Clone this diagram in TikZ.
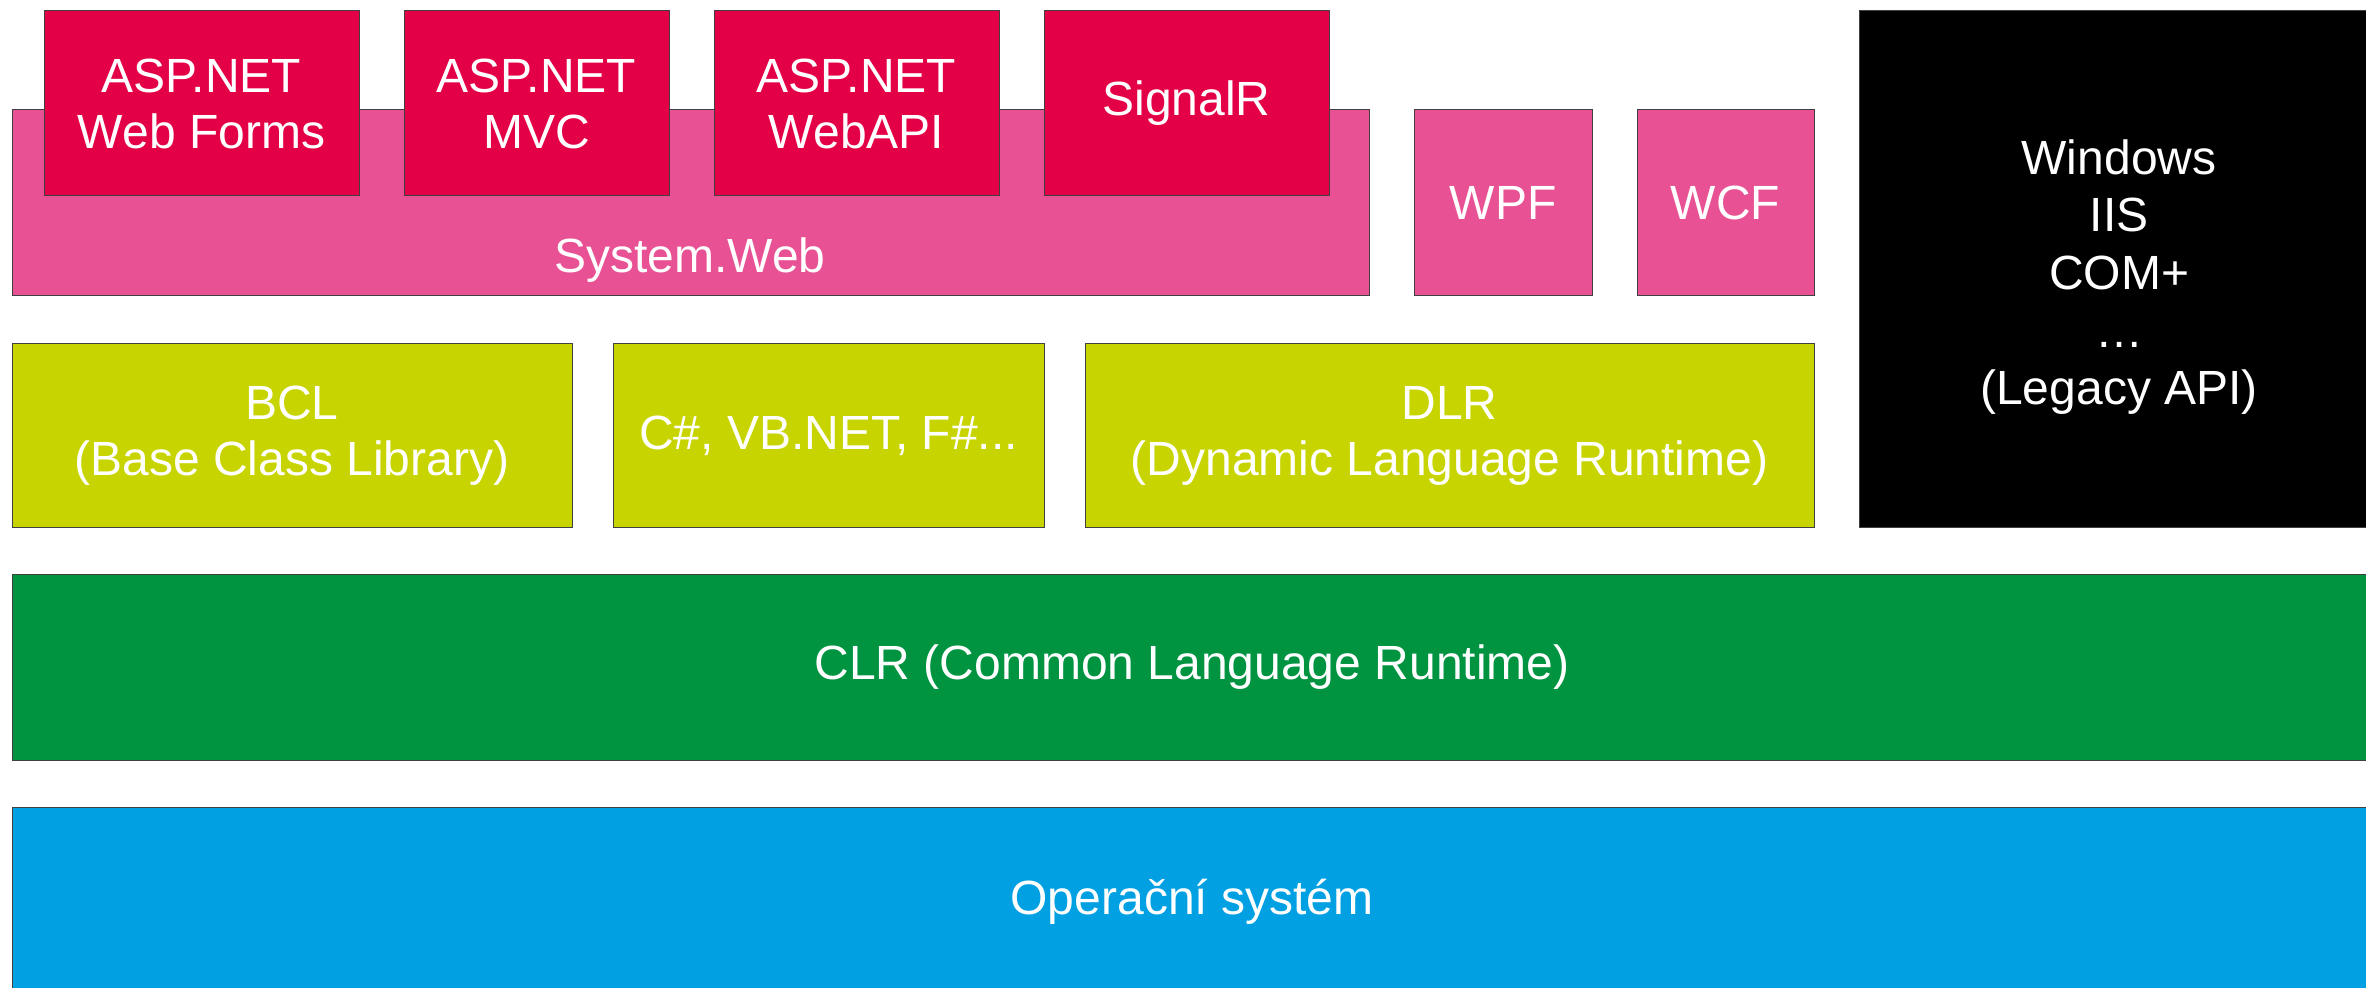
\documentclass[tikz,border=0pt]{standalone}
\usepackage{fontspec}
\setmainfont{Liberation Sans}
\definecolor{cred}{RGB}{228,0,70}
\definecolor{cpink}{RGB}{232,82,148}
\definecolor{cyellow}{RGB}{200,212,0}
\definecolor{cgreen}{RGB}{0,148,64}
\definecolor{cblue}{RGB}{0,160,227}
\newcommand\layer[7]{%
  \node[blk, fill=#6, minimum width={(#4-#2)*0.5pt}, minimum height={(#5-#3)*0.5pt}] (#1) at (#2,#3) {#7};}
\begin{document}
\begin{tikzpicture}[x=0.5pt,y=-0.5pt,
  blk/.style={draw=black!75, line width=0.5pt, inner sep=0pt, outer sep=0pt, anchor=north west,
    text=white, align=center, font=\fontsize{24}{28}\selectfont},
  lbl/.style={text=white, inner sep=0pt, align=center, font=\fontsize{24}{28}\selectfont}]
\useasboundingbox (0,0) rectangle (2366,988);
\clip (0,0) rectangle (2366,988);
% web stack
\layer{sysweb}{12}{110}{1369}{296}{cpink}{}
\node[lbl] (syswebtext) at (690,260) {System.Web};
\layer{webforms}{44}{11}{359}{196}{cred}{ASP.NET\\Web Forms}
\layer{mvc}{404}{11}{669}{196}{cred}{ASP.NET\\MVC}
\layer{webapi}{714}{11}{999}{196}{cred}{ASP.NET\\WebAPI}
\layer{signalr}{1044}{11}{1329}{196}{cred}{SignalR}
\layer{wpf}{1414}{110}{1592}{296}{cpink}{WPF}
\layer{wcf}{1637}{110}{1814}{296}{cpink}{WCF}
% legacy
\layer{legacy}{1859}{11}{2380}{528}{black}{}
\node[lbl, font=\fontsize{24}{28.8}\selectfont] (legacytext) at (2119,277) {Windows\\IIS\\COM+\\…\\(Legacy API)};
% libraries
\layer{bcl}{12}{344}{572}{528}{cyellow}{BCL\\(Base Class Library)}
\layer{langs}{613}{344}{1044}{528}{cyellow}{C\#, VB.NET, F\#...}
\layer{dlr}{1085}{344}{1814}{528}{cyellow}{DLR\\(Dynamic Language Runtime)}
% runtime and OS
\layer{clr}{12}{575}{2372}{760}{cgreen}{CLR (Common Language Runtime)}
\layer{os}{12}{807}{2372}{997}{cblue}{Operační systém}
\end{tikzpicture}
\end{document}
